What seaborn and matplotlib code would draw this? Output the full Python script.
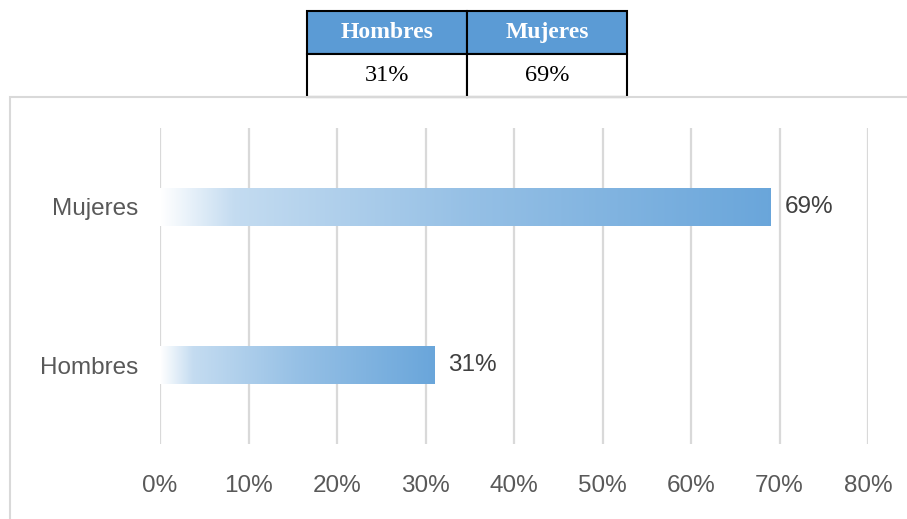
import numpy as np
import pandas as pd
import matplotlib
matplotlib.use("Agg")
import matplotlib.pyplot as plt
from matplotlib.patches import Rectangle
from matplotlib.ticker import PercentFormatter
import seaborn as sns

# data
categories = ["Mujeres", "Hombres"]
shares = [69, 31]
table_header = ["Hombres", "Mujeres"]
table_values = ["31%", "69%"]
xticks = [0, 10, 20, 30, 40, 50, 60, 70, 80]

df = pd.DataFrame({"grupo": categories, "pct": shares})

sns.set_theme(style="white")
plt.rcParams["font.family"] = ["Liberation Sans", "DejaVu Sans"]

fig = plt.figure(figsize=(9.07, 5.19), dpi=100)
W, H = 907, 519

# frame around the chart area
fig.patches.append(Rectangle((10 / W, -0.05), 1.0, 1.05 - 97 / H,
                             transform=fig.transFigure, fill=False,
                             edgecolor="#d9d9d9", linewidth=1.5))

ax = fig.add_axes([160 / W, 1 - 444 / H, (868 - 160) / W, (444 - 128) / H])
sns.barplot(data=df, x="pct", y="grupo", order=categories, color="#5b9bd5",
            width=0.24, ax=ax)

# gradient fill: white on the left, blue on the right
base = np.array([91, 157, 215]) / 255
stops_t = [0.0, 0.12, 0.5, 1.0]
stops_a = [0.0, 0.36, 0.64, 0.91]
t = np.linspace(0, 1, 256)
a = np.interp(t, stops_t, stops_a)
grad = np.ones((1, 256, 3)) * (1 - a[None, :, None]) + base * a[None, :, None]
for p in ax.patches:
    x0, y0 = p.get_x(), p.get_y()
    w, h = p.get_width(), p.get_height()
    p.set_facecolor("none")
    p.set_edgecolor("none")
    ax.imshow(grad, extent=(x0, x0 + w, y0 + h, y0), aspect="auto",
              interpolation="bilinear", zorder=3)
ax.set_xlim(0, 80)
ax.set_ylim(1.5, -0.5)

for c in ax.containers:
    ax.bar_label(c, labels=[f"{v}%" for v in shares], padding=10,
                 fontsize=17.5, color="#404040")

ax.set_xticks(xticks)
ax.xaxis.set_major_formatter(PercentFormatter(decimals=0))
ax.grid(axis="x", color="#d9d9d9", linewidth=1.6)
ax.set_axisbelow(True)
for s in ax.spines.values():
    s.set_visible(False)
ax.tick_params(axis="x", length=0, pad=22, labelsize=17.5, labelcolor="#595959")
ax.tick_params(axis="y", length=0, pad=16, labelsize=17.5, labelcolor="#595959")
ax.set_xlabel("")
ax.set_ylabel("")

# summary table above the chart
tax = fig.add_axes([307 / W, 1 - 97 / H, (627 - 307) / W, (97 - 11) / H])
tax.axis("off")
tbl = tax.table(cellText=[table_values], colLabels=table_header,
                cellLoc="center", bbox=[0, 0, 1, 1])
tbl.auto_set_font_size(False)
for (r, c), cell in tbl.get_celld().items():
    cell.set_edgecolor("black")
    cell.set_linewidth(1.5)
    txt = cell.get_text()
    txt.set_fontfamily("Liberation Serif")
    if r == 0:
        cell.set_facecolor("#5b9bd5")
        txt.set_color("white")
        txt.set_fontweight("bold")
        txt.set_fontsize(17)
    else:
        cell.set_facecolor("white")
        txt.set_color("black")
        txt.set_fontsize(17.5)

fig.savefig("out.png", dpi=100)
